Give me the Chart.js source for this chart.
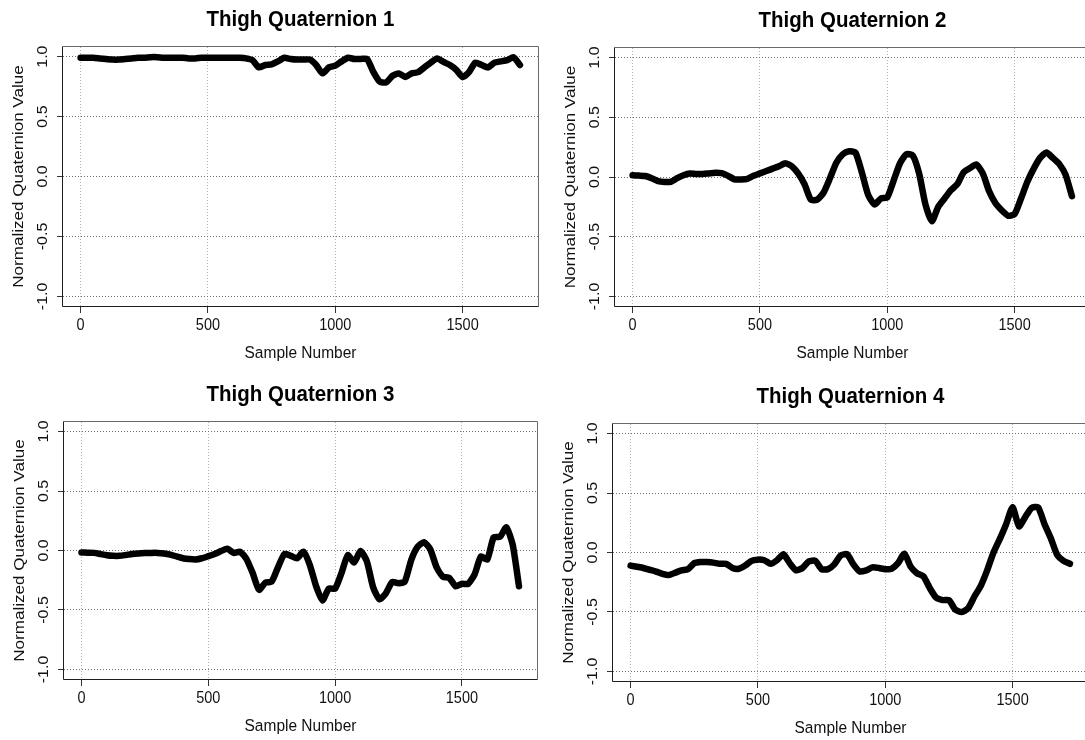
<!DOCTYPE html>
<html><head><meta charset="utf-8">
<script src="https://cdn.jsdelivr.net/npm/chart.js@4.4.0/dist/chart.umd.min.js"></script>
<style>
html,body{margin:0;padding:0;background:#fff;width:1085px;height:740px;overflow:hidden;position:relative;}
canvas{position:absolute;}
</style></head><body>
<canvas id="c1" width="545" height="372" style="left:0;top:0"></canvas>
<canvas id="c2" width="560" height="372" style="left:545px;top:0"></canvas>
<canvas id="c3" width="545" height="368" style="left:0;top:372px"></canvas>
<canvas id="c4" width="560" height="368" style="left:545px;top:372px"></canvas>
<script>
// ---- data ----
const sampleNumbers = [0,25,50,75,100,125,150,175,200,225,250,275,300,325,350,375,400,425,450,475,
  500,525,550,575,600,625,650,675,700,725,750,775,800,825,850,875,900,925,950,975,
  1000,1025,1050,1075,1100,1125,1150,1175,1200,1225,1250,1275,1300,1325,1350,1375,1400,1425,1450,1475,
  1500,1525,1550,1575,1600,1625,1650,1675,1700,1725];
const thighQ1 = [0.99,0.99,0.99,0.985,0.98,0.975,0.975,0.98,0.985,0.99,
  0.99,0.995,0.995,0.99,0.99,0.99,0.99,0.985,0.985,0.99,
  0.99,0.99,0.99,0.99,0.99,0.99,0.985,0.97,0.91,0.93,
  0.935,0.96,0.99,0.98,0.975,0.975,0.975,0.93,0.86,0.91,
  0.925,0.96,0.99,0.98,0.98,0.98,0.87,0.79,0.785,0.84,
  0.86,0.83,0.86,0.87,0.91,0.95,0.985,0.955,0.93,0.89,
  0.83,0.87,0.95,0.93,0.91,0.95,0.96,0.97,0.995,0.93];
const thighQ2 = [0.015,0.012,0.008,-0.01,-0.035,-0.042,-0.04,-0.01,0.015,0.03,
  0.025,0.025,0.03,0.035,0.032,0.01,-0.02,-0.02,-0.015,0.01,
  0.03,0.05,0.07,0.09,0.115,0.09,0.03,-0.06,-0.19,-0.19,
  -0.13,-0.01,0.12,0.19,0.215,0.205,0.04,-0.15,-0.23,-0.18,
  -0.17,-0.03,0.115,0.19,0.18,0.03,-0.23,-0.37,-0.25,-0.18,
  -0.11,-0.06,0.04,0.075,0.105,0.03,-0.12,-0.22,-0.28,-0.325,
  -0.31,-0.18,-0.04,0.07,0.16,0.205,0.16,0.11,0.02,-0.16];
const thighQ3 = [-0.017,-0.018,-0.02,-0.03,-0.04,-0.045,-0.045,-0.038,-0.03,-0.025,
  -0.022,-0.02,-0.02,-0.025,-0.035,-0.05,-0.065,-0.072,-0.075,-0.065,
  -0.048,-0.03,-0.005,0.015,-0.02,-0.01,-0.07,-0.19,-0.33,-0.27,
  -0.26,-0.14,-0.03,-0.045,-0.065,-0.01,-0.12,-0.3,-0.42,-0.32,
  -0.32,-0.19,-0.04,-0.1,-0.005,-0.09,-0.31,-0.41,-0.36,-0.265,
  -0.275,-0.26,-0.08,0.03,0.07,0.01,-0.14,-0.22,-0.23,-0.3,
  -0.28,-0.28,-0.2,-0.05,-0.075,0.11,0.115,0.195,0.05,-0.3];
const thighQ4 = [-0.11,-0.12,-0.13,-0.145,-0.16,-0.18,-0.19,-0.17,-0.15,-0.14,
  -0.09,-0.08,-0.08,-0.085,-0.095,-0.095,-0.13,-0.137,-0.11,-0.07,
  -0.06,-0.065,-0.095,-0.065,-0.015,-0.09,-0.15,-0.13,-0.075,-0.07,
  -0.14,-0.14,-0.1,-0.025,-0.015,-0.1,-0.16,-0.15,-0.125,-0.13,
  -0.14,-0.137,-0.09,-0.01,-0.12,-0.175,-0.2,-0.3,-0.38,-0.4,
  -0.4,-0.48,-0.5,-0.47,-0.37,-0.28,-0.15,0.0,0.115,0.24,
  0.38,0.22,0.3,0.375,0.38,0.24,0.12,-0.02,-0.07,-0.095];
const xTickValues = [0,500,1000,1500];
const yTickValues = [-1,-0.5,0,0.5,1];
const yTickLabels = ['-1.0','-0.5','0.0','0.5','1.0'];
const panelTitles = ['Thigh Quaternion 1','Thigh Quaternion 2','Thigh Quaternion 3','Thigh Quaternion 4'];
const xAxisTitle = 'Sample Number';
const yAxisTitle = 'Normalized Quaternion Value';
const xLimits = [-69, 1796];
const yLimits = [-1.08, 1.08];

// ---- layout / drawing ----
const FAMILY = '"Liberation Sans", Arial, Helvetica, sans-serif';
const K = 1.1; // vertical text stretch seen in the figure

const rText = {
  id: 'rText',
  afterDraw(chart, args, opts) {
    const {ctx, chartArea: ca, scales: {x, y}} = chart;
    const txt = (s, px, py, font, rot, color) => {
      ctx.save();
      ctx.translate(px, py);
      ctx.scale(1, K);
      if (rot) ctx.rotate(-Math.PI / 2);
      ctx.font = font;
      ctx.fillStyle = color || '#111';
      ctx.textAlign = 'center';
      ctx.textBaseline = 'middle';
      ctx.fillText(s, 0, 0);
      ctx.restore();
    };
    // plot box
    ctx.save();
    ctx.lineWidth = 1;
    const L = Math.round(ca.left) - 0.5, R = Math.round(ca.right) + 0.5;
    const T = Math.round(ca.top) - 0.5, B = Math.round(ca.bottom) + 0.5;
    ctx.strokeStyle = '#6a6a6a';
    ctx.beginPath(); ctx.moveTo(L, T); ctx.lineTo(R, T); ctx.lineTo(R, B); ctx.stroke();
    ctx.strokeStyle = '#1e1e1e';
    ctx.beginPath(); ctx.moveTo(L, T); ctx.lineTo(L, B); ctx.lineTo(R, B); ctx.stroke();
    ctx.restore();
    const cx = (ca.left + ca.right) / 2, cy = (ca.top + ca.bottom) / 2;
    txt(opts.title, cx, ca.top - 27.5, 'bold 20.5px ' + FAMILY, false, '#000');
    xTickValues.forEach(v => txt(String(v), x.getPixelForValue(v), ca.bottom + 19.5, '14.5px ' + FAMILY));
    yTickValues.forEach((v, i) => txt(yTickLabels[i], ca.left - 20.5, y.getPixelForValue(v), '14.5px ' + FAMILY, true));
    txt(xAxisTitle, cx, ca.bottom + 47, '15.5px ' + FAMILY);
    txt(yAxisTitle, ca.left - 44.5, cy, '15.5px ' + FAMILY, true);
  }
};

const panels = [
  {id: 'c1', values: thighQ1, title: panelTitles[0], box: {l: 63, r: 538, t: 47, b: 306}},
  {id: 'c2', values: thighQ2, title: panelTitles[1], box: {l: 70, r: 545, t: 48, b: 306}},
  {id: 'c3', values: thighQ3, title: panelTitles[2], box: {l: 64, r: 537, t: 50, b: 307}},
  {id: 'c4', values: thighQ4, title: panelTitles[3], box: {l: 68, r: 543, t: 52, b: 309}}
];

panels.forEach(p => {
  const cv = document.getElementById(p.id);
  const W = cv.width, H = cv.height;
  new Chart(cv, {
    type: 'line',
    data: {
      datasets: [{
        data: sampleNumbers.map((s, i) => ({x: s, y: p.values[i]})),
        borderColor: '#000',
        borderWidth: 6.5,
        pointRadius: 0,
        tension: 0.2,
        fill: false,
        borderJoinStyle: 'round',
        borderCapStyle: 'round'
      }]
    },
    options: {
      responsive: false,
      animation: false,
      events: [],
      layout: {padding: {left: 0, top: p.box.t, right: W - p.box.r, bottom: 0}},
      plugins: {legend: {display: false}, tooltip: {enabled: false}, title: {display: false},
        rText: {title: p.title}},
      scales: {
        x: {
          type: 'linear', min: xLimits[0], max: xLimits[1],
          afterBuildTicks: s => { s.ticks = xTickValues.map(v => ({value: v})); },
          afterFit: s => { s.height = H - p.box.b; },
          ticks: {display: false},
          grid: {color: '#b0b0b0', lineWidth: 1, drawTicks: true, tickLength: 7, tickColor: '#333',
                 tickWidth: 1, tickBorderDash: [], borderDash: [1, 2]},
          border: {display: false, dash: [1, 2]}
        },
        y: {
          type: 'linear', min: yLimits[0], max: yLimits[1],
          afterBuildTicks: s => { s.ticks = yTickValues.map(v => ({value: v})); },
          afterFit: s => { s.width = p.box.l; },
          ticks: {display: false},
          grid: {color: '#707070', lineWidth: 1, drawTicks: true, tickLength: 6, tickColor: '#333',
                 tickWidth: 1, tickBorderDash: [], borderDash: [1, 2]},
          border: {display: false, dash: [1, 2]}
        }
      }
    },
    plugins: [rText]
  });
});
</script>
</body></html>
